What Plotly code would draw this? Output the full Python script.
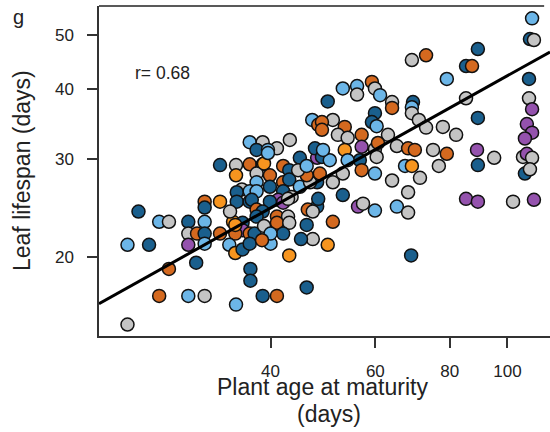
import numpy as np
import plotly.graph_objects as go

# Plant age at maturity (days), leaf lifespan (days), group code
age = [24.0, 26.0, 27.0, 23.0, 25.0, 29.1, 29.1, 30.1, 29.1, 30.0, 27.0, 26.0, 29.1, 31.0, 23.0,
       35.0, 37.0, 37.0, 38.8, 41.0, 46.0, 43.0, 49.9, 50.9, 68.9, 31.0, 32.9, 31.0, 31.0, 31.0,
       31.0, 32.9, 35.0, 36.9, 38.8, 35.0, 37.9, 36.9, 38.8, 37.9, 37.9, 35.8, 35.1, 35.1, 36.9,
       34.6, 35.9, 35.9, 34.2, 32.9, 34.9, 36.9, 37.6, 34.1, 34.9, 35.9, 36.9, 34.9, 47.0, 48.1,
       41.0, 39.6, 44.8, 47.9, 47.5, 39.9, 42.0, 43.0, 39.9, 42.0, 43.0, 44.8, 36.9, 37.9, 42.0,
       47.9, 46.6, 46.0, 48.4, 41.2, 42.0, 39.9, 47.9, 46.2, 47.1, 37.2, 37.9, 38.8, 41.0, 42.8,
       37.9, 39.0, 41.0, 43.0, 46.0, 47.1, 45.0, 40.0, 42.0, 40.0, 38.7, 43.4, 44.5, 52.9, 55.9,
       55.9, 59.2, 59.9, 61.1, 49.9, 64.0, 64.0, 69.4, 69.1, 69.1, 71.0, 73.0, 77.9, 82.0, 59.9,
       59.2, 60.3, 50.9, 48.8, 48.8, 53.3, 51.9, 53.9, 56.9, 63.0, 65.2, 68.1, 69.9, 56.9, 59.9,
       60.6, 56.5, 60.3, 52.9, 56.9, 59.9, 67.3, 69.1, 48.8, 50.3, 64.0, 68.1, 71.3, 52.9, 50.9,
       49.0, 53.3, 53.9, 46.0, 48.1, 42.8, 56.1, 57.2, 59.9, 65.2, 68.1, 75.0, 79.1, 76.7, 110.0,
       109.1, 110.8, 89.2, 73.0, 69.1, 85.2, 87.2, 79.1, 108.7, 85.2, 108.7, 110.0, 89.2, 107.8, 110.0,
       107.0, 88.9, 95.0, 106.2, 107.8, 110.0, 107.0, 109.1, 89.2, 85.2, 89.2, 102.2, 110.8, 43.1,
       39.0, 39.6]
lifespan = [24.1, 23.1, 23.1, 21.0, 21.0, 23.1, 22.0, 22.0, 21.0, 19.5, 19.0, 17.0, 17.0, 17.0, 15.1,
            16.4, 19.0, 18.1, 17.0, 17.0, 17.6, 20.1, 21.0, 23.1, 20.1, 25.1, 25.1, 24.5, 23.1, 22.0,
            21.1, 29.2, 29.2, 29.3, 29.3, 28.0, 28.2, 32.1, 32.1, 31.1, 27.2, 26.4, 26.1, 25.1, 25.1,
            23.1, 23.0, 22.3, 24.1, 22.0, 22.0, 22.0, 22.0, 21.0, 20.3, 20.6, 21.1, 22.8, 35.2, 34.5,
            31.3, 31.1, 30.1, 30.1, 31.3, 28.0, 29.1, 28.6, 26.7, 27.2, 27.5, 26.7, 26.2, 26.2, 26.2,
            27.2, 27.2, 28.0, 28.2, 25.3, 25.0, 25.1, 24.6, 24.3, 24.1, 25.3, 24.3, 24.1, 23.6, 23.6,
            23.6, 22.7, 23.0, 23.0, 22.8, 21.5, 21.5, 21.1, 22.0, 22.0, 21.4, 25.6, 28.6, 40.1, 40.5,
            39.1, 41.2, 40.1, 39.0, 38.0, 37.9, 37.0, 37.9, 37.1, 36.2, 35.2, 34.1, 34.2, 33.1, 36.2,
            34.9, 34.3, 35.2, 34.9, 33.8, 34.2, 33.1, 32.7, 33.1, 33.1, 31.6, 31.3, 31.1, 31.5, 31.2,
            32.0, 29.8, 30.2, 28.2, 28.6, 28.2, 29.1, 29.1, 30.2, 29.8, 27.4, 26.1, 27.7, 25.8, 27.2,
            31.1, 31.1, 29.8, 29.1, 25.4, 25.4, 24.6, 24.9, 24.2, 24.6, 24.0, 31.1, 30.6, 29.1, 53.6,
            49.2, 49.0, 47.2, 46.0, 45.1, 44.0, 44.0, 41.7, 41.7, 38.5, 38.5, 36.8, 35.5, 34.6, 33.4,
            32.6, 31.1, 30.1, 30.2, 30.6, 30.1, 28.2, 28.7, 29.2, 25.4, 25.1, 25.1, 25.3, 32.4,
            29.4, 30.7]
group = list("DLGLDDGOPDOOLGG"
             "LDDDODYYODOYDLD"
             "LDGOOYGLGDLGDDD"
             "YDPGOOODLYDDYLO"
             "GLDPDOODDODLLLD"
             "DGOOPPDDOGDODOG"
             "DGOGDGDLDLOGGLL"
             "GOGLDGODLGGGGGD"
             "DLGOOOGGOGGOOPG"
             "ODGGOLLYDLGGGDG"
             "LYLLDGPGLLGGOGL"
             "DGDOGDOLDGGPDPP"
             "PPGGPGDGDPPGPG"
             "YL")

# fitted regression in log10 space: log10(y) = a + b*log10(x)
fit_intercept = 0.432
fit_slope = 0.597
r_value = 0.68

x_ticks = [40, 60, 80, 100]
y_ticks = [20, 30, 40, 50]

colors = {"D": "#1a5f8d", "L": "#6cb6e8", "O": "#d4691f", "Y": "#f7951f",
          "G": "#c4c4c4", "P": "#9452ad"}

xr = [np.log10(20.6), np.log10(117.9)]
yr = [np.log10(14.4), np.log10(56.4)]

fig = go.Figure()
lx = np.array([10 ** xr[0], 10 ** xr[1]])
ly = 10 ** (fit_intercept + fit_slope * np.log10(lx))

fig.add_trace(go.Scatter(
    x=age, y=lifespan, mode="markers",
    marker=dict(size=13, color=[colors[g] for g in group],
                line=dict(color="#111", width=1.5)),
    hoverinfo="skip"))
fig.add_trace(go.Scatter(x=lx, y=ly, mode="lines",
                         line=dict(color="black", width=3), hoverinfo="skip"))

font = "Liberation Sans, Arial, sans-serif"
fig.update_layout(
    width=550, height=432, margin=dict(l=99, r=0, t=6, b=96),
    plot_bgcolor="white", paper_bgcolor="white", showlegend=False,
    font=dict(family=font, color="#222"),
    xaxis=dict(type="log", range=xr, tickvals=x_ticks, ticktext=[str(v) for v in x_ticks],
               ticks="outside", ticklen=10, tickwidth=1.5, tickcolor="#333",
               showline=True, linecolor="#333", linewidth=1.5, showgrid=False, zeroline=False,
               tickfont=dict(size=17, family=font, color="#222"), ticklabelstandoff=9),
    yaxis=dict(type="log", range=yr, tickvals=y_ticks, ticktext=[str(v) for v in y_ticks],
               ticks="outside", ticklen=10, tickwidth=1.5, tickcolor="#333",
               showline=True, linecolor="#333", linewidth=1.5, showgrid=False, zeroline=False,
               tickfont=dict(size=17, family=font, color="#222"), ticklabelstandoff=10),
)
fig.add_shape(type="line", xref="paper", yref="paper", x0=0, x1=0.987, y0=1, y1=1,
              line=dict(color="#222", width=1.5))

def px(p):
    return (p - 99) / 451

def py(p):
    return (336 - p) / 330

anns = [
    dict(text="g", x=px(18), y=py(17), size=20, xanchor="center"),
    dict(text=f"r= {r_value:.2f}", x=px(133), y=py(73), size=17.5, xanchor="left"),
    dict(text="Plant age at maturity", x=px(322), y=py(387), size=23, xanchor="center"),
    dict(text="(days)", x=px(329), y=py(414), size=23, xanchor="center"),
]
for a in anns:
    fig.add_annotation(text=a["text"], x=a["x"], y=a["y"], xref="paper", yref="paper",
                       xanchor=a["xanchor"], yanchor="middle", showarrow=False,
                       font=dict(size=a["size"], family=font, color="#222"))
fig.add_annotation(text="Leaf lifespan (days)", x=px(22), y=0.5, xref="paper", yref="paper",
                   textangle=-90, xanchor="center", yanchor="middle", showarrow=False,
                   font=dict(size=23, family=font, color="#222"))

fig.write_html("out.html")
